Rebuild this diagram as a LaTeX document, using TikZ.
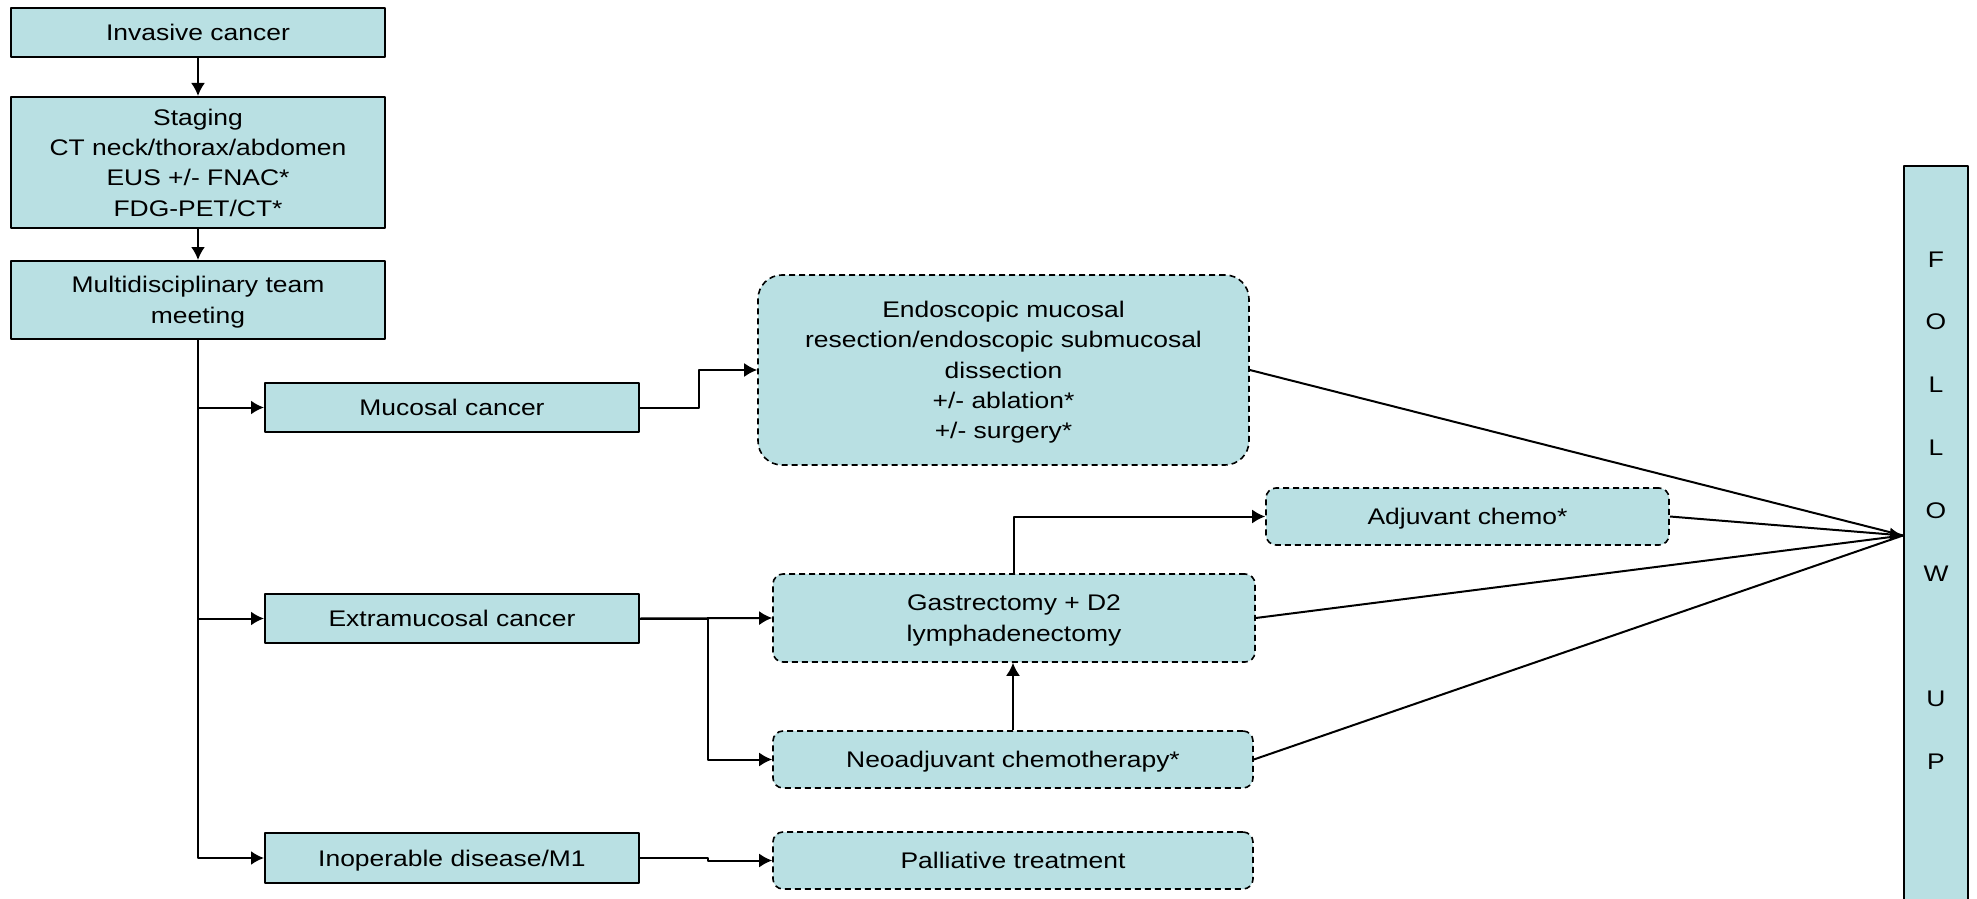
\documentclass[tikz,border=0pt]{standalone}
\usepackage{fontspec}
\setmainfont{Liberation Sans}[FakeStretch=1.17]
\usetikzlibrary{arrows.meta}
\tikzset{>={Latex[length=6.5pt,width=7pt]}}
\definecolor{boxfill}{HTML}{B9E0E3}

\begin{document}
\begin{tikzpicture}[
	x=0.5pt, y=-0.5pt,
	line join=round,
	font=\fontsize{11.3}{15.2}\selectfont,
	box/.style={draw, line width=1pt, fill=boxfill, align=center, inner sep=0pt, text depth=0pt, minimum width=187pt},
	dbox/.style={draw, line width=0.8pt, dash pattern=on 3pt off 2pt, fill=boxfill, align=center, inner sep=0pt, text depth=0pt, rounded corners=5pt},
	conn/.style={line width=1pt}
]
	\useasboundingbox (0,0) rectangle (1977,899);

	% staging column
	\node[box, minimum height=24.5pt] (inv) at (198,32.5) {Invasive cancer};
	\node[box, minimum height=65.5pt] (staging) at (198,162.5) {Staging\\CT neck/thorax/abdomen\\EUS +/- FNAC*\\FDG-PET/CT*};
	\node[box, minimum height=39pt] (mdt) at (198,300) {Multidisciplinary team\\meeting};

	% diagnosis column
	\node[box, minimum height=24.5pt] (mucosal) at (452,407.5) {Mucosal cancer};
	\node[box, minimum height=24.5pt] (extra) at (452,618.5) {Extramucosal cancer};
	\node[box, minimum height=25pt] (inop) at (452,858) {Inoperable disease/M1};

	% treatments
	\node[dbox, rounded corners=12pt, minimum width=245.5pt, minimum height=95pt] (emr) at (1003.5,370)
		{Endoscopic mucosal\\resection/endoscopic submucosal\\dissection\\+/- ablation*\\+/- surgery*};
	\node[dbox, minimum width=241pt, minimum height=44pt] (gast) at (1014,618) {Gastrectomy + D2\\lymphadenectomy};
	\node[dbox, minimum width=240pt, minimum height=28.5pt] (neo) at (1013,759.5) {Neoadjuvant chemotherapy*};
	\node[dbox, minimum width=240pt, minimum height=28.5pt] (pall) at (1013,860.5) {Palliative treatment};
	\node[dbox, minimum width=201.5pt, minimum height=28.5pt] (adj) at (1467.5,516.5) {Adjuvant chemo*};

	% follow up bar
	\node[box, minimum width=32pt, inner ysep=42.75pt, text depth=25pt, anchor=north,
		font=\fontsize{11.3}{31.4}\selectfont] (follow) at (1936,165)
		{F\\O\\L\\L\\O\\W\\[31.4pt]U\\P};

	% connectors
	\draw[conn,->] (inv) -- (staging);
	\draw[conn,->] (staging) -- (mdt);
	\draw[conn,->] (mdt.south) |- (mucosal);
	\draw[conn,->] (mdt.south) |- (extra);
	\draw[conn,->] (mdt.south) |- (inop);
	\draw[conn,->] (mucosal.east) -- ++(59,0) |- (emr.west);
	\draw[conn,->] (extra.east) -- (gast.west);
	\draw[conn,->] (extra.east) -- ++(68,0) |- (neo.west);
	\draw[conn,->] (inop.east) -- ++(68,0) |- (pall.west);
	\draw[conn,->] (neo.north) -- (neo.north |- gast.south);
	\draw[conn,->] (gast.north) |- (adj.west);
	\draw[conn] (emr.east) -- (follow.west);
	\draw[conn] (gast.east) -- (follow.west);
	\draw[conn] (neo.east) -- (follow.west);
	\draw[conn,->] (adj.east) -- (follow.west);
\end{tikzpicture}
\end{document}
